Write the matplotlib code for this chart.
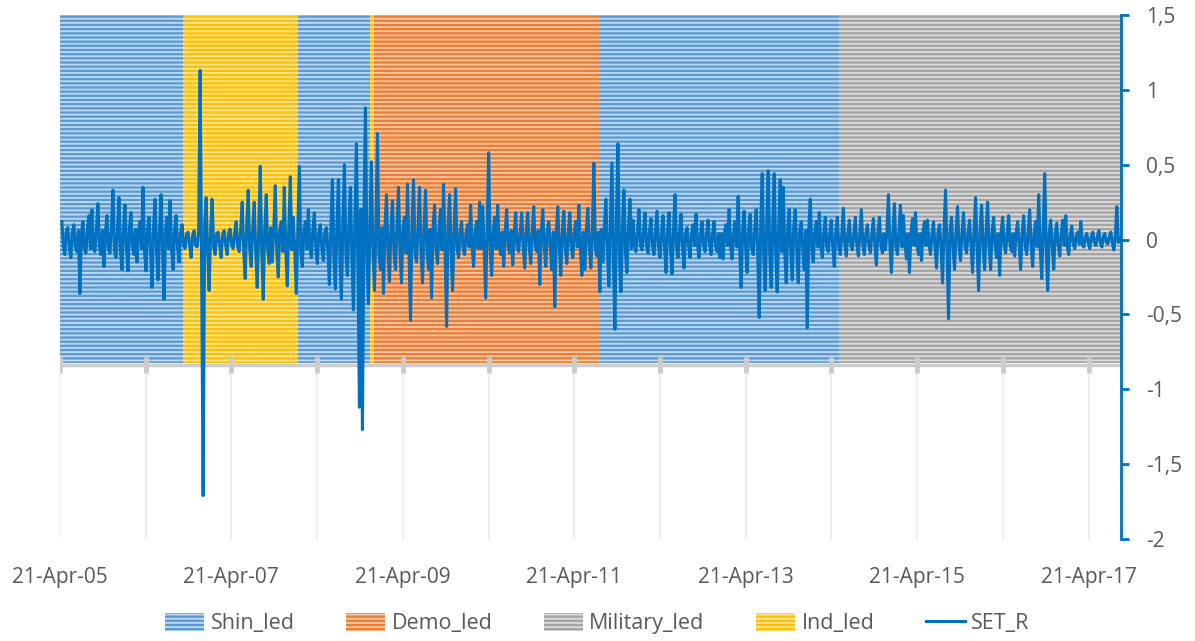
import matplotlib
matplotlib.use("Agg")
import matplotlib.pyplot as plt
import matplotlib.dates as mdates
from matplotlib.patches import Patch
from matplotlib.lines import Line2D
import pandas as pd
import numpy as np

plt.rcParams['font.family'] = ['Open Sans', 'DejaVu Sans']
plt.rcParams['hatch.linewidth'] = 1.3

# ---- data -------------------------------------------------------------
series_start = "2005-04-29"
series_end = "2017-09-01"
set_r = [
    0.12, -0.05, -0.10, 0.06, 0.08, -0.06, -0.12, 0.05, 0.10, -0.05, -0.08, 0.06, -0.36, 0.04, 0.12, -0.06, -0.09, 0.07, 0.16, -0.06,
    0.20, -0.06, -0.08, 0.07, 0.24, -0.05, -0.10, 0.06, -0.18, 0.05, 0.16, -0.06, -0.09, 0.08, 0.33, -0.07, -0.12, 0.06, 0.28, -0.08,
    -0.20, 0.07, 0.23, -0.06, -0.21, 0.08, 0.18, -0.05, -0.10, 0.07, -0.15, 0.06, 0.12, -0.06, 0.35, -0.08, -0.21, 0.07, 0.15, -0.07,
    -0.32, 0.08, 0.27, -0.07, -0.27, 0.06, 0.30, -0.08, -0.40, 0.07, 0.15, -0.06, 0.26, -0.07, -0.20, 0.06, 0.16, -0.06, -0.15, 0.05,
    0.10, -0.04, -0.06, 0.04, 0.05, -0.04, -0.12, 0.03, 0.06, -0.04, -0.05, 0.05, 1.13, -0.20, -1.71, 0.10, 0.28, -0.08, -0.34, 0.06,
    0.27, -0.05, -0.10, 0.04, 0.05, -0.04, -0.12, 0.04, 0.06, -0.04, -0.10, 0.05, 0.07, -0.04, -0.06, 0.05, 0.12, -0.05, -0.08, 0.07,
    0.25, -0.08, -0.26, 0.09, 0.33, -0.07, -0.18, 0.08, 0.25, -0.08, -0.32, 0.07, 0.49, -0.09, -0.40, 0.08, 0.30, -0.07, -0.16, 0.08,
    -0.15, 0.07, 0.36, -0.08, -0.25, 0.07, 0.12, -0.08, 0.35, -0.07, -0.31, 0.08, 0.42, -0.07, 0.15, -0.08, -0.36, 0.07, 0.49, -0.08,
    -0.18, 0.06, 0.12, -0.06, 0.20, -0.05, -0.12, 0.06, 0.18, -0.06, -0.16, 0.05, 0.10, -0.06, -0.14, 0.05, 0.08, -0.06, -0.30, 0.07,
    0.40, -0.10, -0.33, 0.09, 0.40, -0.10, -0.40, 0.10, 0.50, -0.09, -0.24, 0.10, 0.35, -0.12, -0.47, 0.12, 0.64, -0.15, -1.12, 0.20,
    -1.27, 0.15, 0.88, -0.12, -0.43, 0.10, 0.52, -0.10, -0.34, 0.09, 0.71, -0.10, -0.20, 0.08, -0.36, 0.09, 0.30, -0.08, -0.28, 0.08,
    0.26, -0.08, -0.20, 0.09, 0.35, -0.08, -0.29, 0.08, 0.15, -0.09, 0.37, -0.08, -0.54, 0.09, 0.40, -0.08, -0.15, 0.08, 0.35, -0.09,
    -0.29, 0.08, 0.33, -0.08, -0.20, 0.07, -0.39, 0.08, 0.23, -0.07, -0.16, 0.08, 0.20, -0.07, 0.37, -0.08, -0.58, 0.09, 0.30, -0.08,
    -0.34, 0.07, 0.34, -0.06, -0.12, 0.05, 0.12, -0.06, -0.10, 0.05, 0.10, -0.05, 0.23, -0.06, -0.18, 0.06, 0.12, -0.06, 0.25, -0.06,
    0.22, -0.06, -0.39, 0.07, 0.58, -0.06, -0.24, 0.05, 0.15, -0.06, 0.23, -0.05, -0.10, 0.05, -0.18, 0.06, 0.20, -0.05, -0.09, 0.06,
    -0.17, 0.05, 0.18, -0.06, -0.08, 0.05, 0.18, -0.05, -0.19, 0.06, 0.18, -0.05, -0.16, 0.06, 0.22, -0.05, -0.08, 0.06, -0.30, 0.05,
    0.20, -0.05, -0.18, 0.06, 0.12, -0.05, -0.20, 0.05, -0.45, 0.06, 0.22, -0.06, -0.24, 0.05, 0.19, -0.06, -0.16, 0.05, 0.18, -0.05,
    -0.12, 0.05, 0.12, -0.05, 0.23, -0.06, -0.24, 0.05, -0.20, 0.06, 0.21, -0.05, -0.19, 0.06, 0.51, -0.06, -0.11, 0.05, -0.35, 0.07,
    -0.15, 0.08, 0.27, -0.08, -0.31, 0.09, 0.51, -0.10, -0.60, 0.12, 0.64, -0.10, -0.35, 0.09, 0.33, -0.08, -0.22, 0.07, 0.27, -0.06,
    0.13, -0.04, -0.08, 0.05, 0.20, -0.04, -0.07, 0.05, 0.18, -0.04, -0.09, 0.05, 0.14, -0.04, -0.10, 0.04, 0.19, -0.05, -0.12, 0.04,
    0.16, -0.05, -0.22, 0.05, 0.18, -0.05, -0.23, 0.06, 0.30, -0.05, -0.12, 0.05, 0.17, -0.05, -0.19, 0.04, 0.08, -0.04, -0.12, 0.04,
    0.10, -0.04, 0.17, -0.04, -0.12, 0.04, 0.12, -0.04, -0.08, 0.04, 0.13, -0.04, -0.10, 0.04, 0.12, -0.04, -0.08, 0.04, -0.12, 0.04,
    -0.13, 0.05, 0.10, -0.04, 0.20, -0.05, -0.13, 0.05, 0.12, -0.05, 0.29, -0.06, -0.32, 0.07, 0.19, -0.06, -0.22, 0.06, 0.17, -0.06,
    -0.10, 0.06, 0.20, -0.07, -0.52, 0.08, 0.44, -0.08, -0.34, 0.09, 0.46, -0.08, -0.32, 0.08, 0.44, -0.09, -0.35, 0.08, 0.40, -0.08,
    0.35, -0.08, -0.29, 0.07, 0.20, -0.07, -0.27, 0.08, 0.20, -0.07, -0.29, 0.06, 0.12, -0.06, -0.20, 0.06, -0.59, 0.07, 0.27, -0.06,
    -0.15, 0.05, 0.12, -0.05, 0.18, -0.05, -0.12, 0.04, 0.15, -0.05, -0.08, 0.04, 0.13, -0.05, -0.18, 0.05, 0.15, -0.05, -0.10, 0.04,
    0.21, -0.04, -0.11, 0.04, 0.13, -0.04, -0.07, 0.04, 0.15, -0.04, -0.11, 0.04, 0.20, -0.04, -0.10, 0.04, 0.10, -0.04, -0.09, 0.04,
    0.14, -0.05, -0.17, 0.05, 0.15, -0.04, -0.09, 0.04, -0.07, 0.05, 0.30, -0.05, -0.22, 0.05, 0.24, -0.05, -0.10, 0.05, 0.23, -0.05,
    0.16, -0.04, -0.13, 0.04, -0.22, 0.05, 0.14, -0.04, 0.18, -0.04, -0.10, 0.04, -0.14, 0.05, 0.12, -0.04, 0.13, -0.04, -0.10, 0.04,
    0.12, -0.05, -0.19, 0.05, 0.10, -0.05, -0.29, 0.06, 0.33, -0.07, -0.53, 0.06, 0.15, -0.05, -0.20, 0.05, 0.22, -0.05, -0.14, 0.05,
    0.18, -0.05, -0.09, 0.05, 0.13, -0.05, -0.22, 0.06, 0.28, -0.06, -0.34, 0.06, 0.23, -0.05, -0.20, 0.05, 0.25, -0.05, -0.20, 0.05,
    0.15, -0.04, -0.12, 0.04, -0.24, 0.05, 0.15, -0.04, -0.09, 0.04, 0.16, -0.04, -0.08, 0.04, -0.11, 0.04, 0.12, -0.04, -0.20, 0.05,
    0.16, -0.04, -0.10, 0.05, 0.20, -0.05, -0.18, 0.05, 0.12, -0.05, 0.30, -0.06, -0.26, 0.06, 0.44, -0.06, -0.34, 0.05, 0.13, -0.05,
    -0.20, 0.04, 0.11, -0.04, -0.11, 0.04, 0.13, -0.04, 0.16, -0.04, -0.10, 0.03, 0.09, -0.03, -0.06, 0.03, 0.05, -0.03, 0.12, -0.03,
    -0.05, 0.02, 0.04, -0.02, -0.06, 0.02, 0.05, -0.02, -0.04, 0.02, 0.06, -0.02, -0.05, 0.02, 0.04, -0.02, -0.03, 0.02, 0.05, -0.02,
    -0.07, 0.02, 0.22, -0.02, 0.01,
]

regime_names = ["Shin_led", "Ind_led", "Shin_led", "Ind_led", "Demo_led", "Shin_led", "Military_led"]
regime_starts = ["2005-04-21", "2006-09-26", "2008-01-29", "2008-11-30", "2008-12-18", "2011-08-05", "2014-05-22"]
regime_ends = ["2006-09-26", "2008-01-29", "2008-11-30", "2008-12-18", "2011-08-05", "2014-05-22", "2017-09-06"]
band_top = 1.5
band_bottom = -0.825

legend_order = ["Shin_led", "Demo_led", "Military_led", "Ind_led"]
colors = {"Shin_led": "#5B9BD5", "Demo_led": "#ED7D31", "Military_led": "#A5A5A5", "Ind_led": "#FFC000"}
stripe = {"Shin_led": "#C2DAF1", "Demo_led": "#F8C9A9", "Military_led": "#DCDCDC", "Ind_led": "#FFE49A"}

x_start = pd.Timestamp("2005-04-21")
x_end = pd.Timestamp("2017-09-06")
year_ticks = [pd.Timestamp(f"{y}-04-21") for y in range(2005, 2018)]
label_ticks = year_ticks[::2]

dates = pd.date_range(series_start, series_end, periods=len(set_r))

# ---- figure -----------------------------------------------------------
fig = plt.figure(figsize=(11.95, 6.41), dpi=100)
ax = fig.add_axes([0.0502, 0.1591, 0.8879, 0.8175])

for name, s, e in zip(regime_names, regime_starts, regime_ends):
    ax.fill_between([pd.Timestamp(s), pd.Timestamp(e)], band_bottom, band_top,
                    facecolor=colors[name], edgecolor=stripe[name], hatch="----",
                    linewidth=0, zorder=1)

# category axis line, year tick marks and light gridlines below it
ax.vlines(year_ticks, -2, band_bottom, colors="#EBEBEB", linewidth=1.2, zorder=0.5)
ax.axhline(band_bottom - 0.012, color="#CCCCCC", linewidth=2.5, zorder=2)
ax.plot(year_ticks, [band_bottom - 0.012] * len(year_ticks), linestyle="none",
        marker="|", markersize=11, markeredgewidth=3.5, color="#CCCCCC", zorder=2)

ax.plot(dates, set_r, color="#0070C0", linewidth=2.2, zorder=3)

ax.set_xlim(x_start, x_end)
ax.set_ylim(-2, 1.5)

ax.yaxis.tick_right()
ax.set_yticks(np.arange(-2, 1.51, 0.5))
ax.set_yticklabels([f"{v:g}".replace(".", ",") for v in np.arange(-2, 1.51, 0.5)])
ax.tick_params(axis="y", which="major", direction="out", length=6, width=2,
               color="#0070C0", labelcolor="#595959", labelsize=15, pad=12)

ax.set_xticks(label_ticks)
ax.xaxis.set_major_formatter(mdates.DateFormatter("%d-%b-%y"))
ax.tick_params(axis="x", length=0, labelcolor="#595959", labelsize=15, pad=20)

for sp in ["left", "top", "bottom"]:
    ax.spines[sp].set_visible(False)
ax.spines["right"].set_color("#0070C0")
ax.spines["right"].set_linewidth(2)

handles = [Patch(facecolor=colors[n], edgecolor=stripe[n], hatch="----", linewidth=0, label=n)
           for n in legend_order]
handles.append(Line2D([0], [0], color="#0070C0", linewidth=2.2, label="SET_R"))
fig.legend(handles=handles, loc="center", bbox_to_anchor=(0.5, 0.027), ncol=5,
           frameon=False, fontsize=15.5, labelcolor="#595959", handlelength=1.8,
           handleheight=0.9, handletextpad=0.3, columnspacing=2.4)

fig.savefig("out.png", dpi=100)
